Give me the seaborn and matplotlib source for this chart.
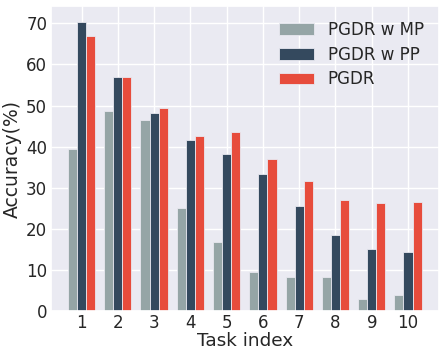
import matplotlib
matplotlib.use("Agg")
import matplotlib.pyplot as plt
import seaborn as sns
import pandas as pd

tasks = ["1", "2", "3", "4", "5", "6", "7", "8", "9", "10"]
series_names = ["PGDR w MP", "PGDR w PP", "PGDR"]
pgdr_w_mp = [39.4, 48.6, 46.5, 25.0, 16.7, 9.6, 8.3, 8.3, 2.9, 4.0]
pgdr_w_pp = [70.4, 56.9, 48.3, 41.5, 38.3, 33.3, 25.6, 18.5, 15.2, 14.3]
pgdr = [67.0, 56.9, 49.5, 42.7, 43.6, 36.9, 31.7, 27.1, 26.3, 26.4]
colors = ["#95a5a6", "#34495e", "#e74c3c"]

rows = []
for name, vals in zip(series_names, [pgdr_w_mp, pgdr_w_pp, pgdr]):
    for t, v in zip(tasks, vals):
        rows.append({"Task": t, "Method": name, "Accuracy": v})
df = pd.DataFrame(rows)

sns.set_theme(style="darkgrid")
plt.rcParams['font.family'] = ['DejaVu Sans']

fig = plt.figure(figsize=(4.46, 3.57), dpi=100)
ax = fig.add_axes([0.1137, 0.1289, 0.984 - 0.1137, 0.983 - 0.1289])
sns.barplot(data=df, x="Task", y="Accuracy", hue="Method", order=tasks,
            hue_order=series_names, palette=colors, width=0.75,
            edgecolor="#e8e8f0", linewidth=0.6, saturation=1, ax=ax, errorbar=None)

ax.set_xlim(-0.85, 9.85)
ax.set_ylim(0, 74.2)
ax.set_yticks([0, 10, 20, 30, 40, 50, 60, 70])
ax.grid(True, axis="both", color="white", linewidth=1.0)
ax.set_axisbelow(True)
ax.tick_params(axis="both", labelsize=12, pad=2.5, length=0)
ax.set_xlabel("Task index", fontsize=13.3, labelpad=0)
ax.set_ylabel("Accuracy(%)", fontsize=13.5, labelpad=3)
ax.legend(loc="upper right", frameon=False, fontsize=12, handlelength=2.1,
          handleheight=0.7, labelspacing=0.4, handletextpad=0.85,
          bbox_to_anchor=(1.0, 1.0))

fig.savefig("out.png", dpi=100)
